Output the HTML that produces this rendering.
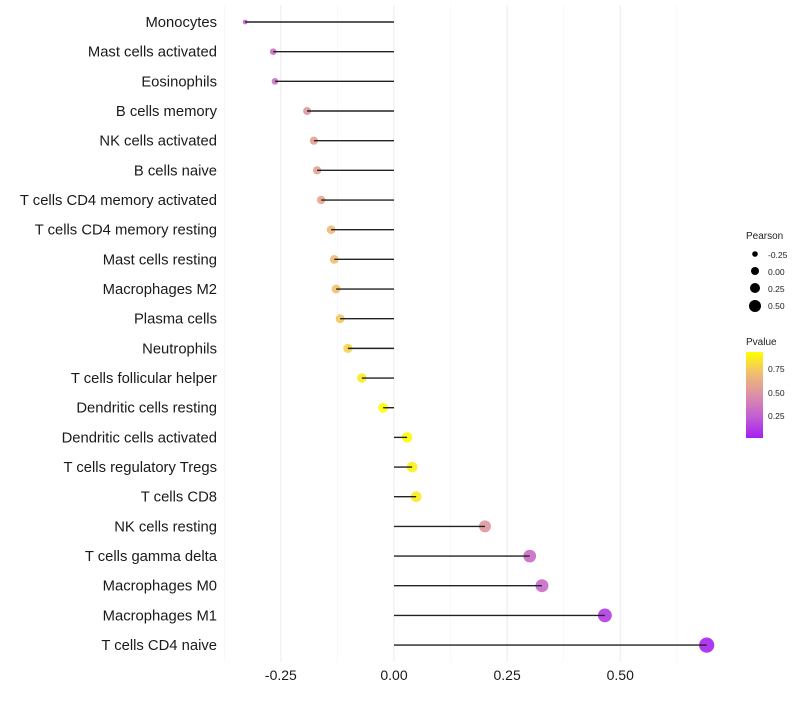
<!DOCTYPE html>
<html><head><meta charset="utf-8"><style>
body{margin:0;background:#fff}
svg{font-family:"Liberation Sans",sans-serif}
</style></head><body>
<svg id="chart" width="800" height="700">
<defs>
<linearGradient id="pg" x1="0" y1="1" x2="0" y2="0">
<stop offset="0" stop-color="#a41ff2"/>
<stop offset="0.25" stop-color="#c25fd2"/>
<stop offset="0.5" stop-color="#dc90a8"/>
<stop offset="0.75" stop-color="#f0bd72"/>
<stop offset="1" stop-color="#ffff00"/>
</linearGradient>
</defs>
<g id="grid"></g>
<g id="marks"></g>
<g id="ylabels"></g>
<g id="xlabels"></g>
<g>
<text x="746" y="239" font-size="10" fill="#222">Pearson</text>
<circle cx="755" cy="254" r="2.8" fill="#000"/><text x="768" y="258" font-size="8.5" fill="#222">-0.25</text>
<circle cx="755" cy="271" r="4" fill="#000"/><text x="768" y="275" font-size="8.5" fill="#222">0.00</text>
<circle cx="755" cy="288" r="5" fill="#000"/><text x="768" y="292" font-size="8.5" fill="#222">0.25</text>
<circle cx="755" cy="306" r="6" fill="#000"/><text x="768" y="309" font-size="8.5" fill="#222">0.50</text>
</g>
<g>
<text x="746" y="345" font-size="10" fill="#222">Pvalue</text>
<rect x="746" y="352" width="17" height="86" fill="url(#pg)"/>
<text x="768" y="372" font-size="8.5" fill="#222">0.75</text>
<text x="768" y="396" font-size="8.5" fill="#222">0.50</text>
<text x="768" y="419" font-size="8.5" fill="#222">0.25</text>
</g>
</svg>
<script>
const categories=["Monocytes","Mast cells activated","Eosinophils","B cells memory","NK cells activated","B cells naive","T cells CD4 memory activated","T cells CD4 memory resting","Mast cells resting","Macrophages M2","Plasma cells","Neutrophils","T cells follicular helper","Dendritic cells resting","Dendritic cells activated","T cells regulatory  Tregs","T cells CD8","NK cells resting","T cells gamma delta","Macrophages M0","Macrophages M1","T cells CD4 naive"];
const pearson=[-0.329,-0.267,-0.263,-0.192,-0.177,-0.170,-0.161,-0.139,-0.132,-0.128,-0.119,-0.102,-0.071,-0.024,0.029,0.040,0.049,0.201,0.300,0.327,0.466,0.691];
const pvalue=[0.28,0.33,0.34,0.50,0.55,0.56,0.58,0.68,0.70,0.71,0.74,0.78,0.86,0.93,0.92,0.88,0.86,0.50,0.30,0.30,0.12,0.03];
const xTicks=[-0.25,0,0.25,0.5];
const xTickLabels=["-0.25","0.00","0.25","0.50"];
const NS="http://www.w3.org/2000/svg";
const x=v=>394+v*452.5;
const y=i=>22+i*29.67;
const rSize=v=>1.8+5.8*Math.sqrt(Math.max(0,(v+0.34)/1.03));
const stops=[[0.016,[164,31,242]],[0.245,[194,95,210]],[0.47,[220,144,168]],[0.70,[240,189,114]],[0.93,[255,255,0]]];
function col(p){if(p<=stops[0][0])return `rgb(${stops[0][1]})`;for(let k=1;k<stops.length;k++){if(p<=stops[k][0]){const a=stops[k-1],b=stops[k],t=(p-a[0])/(b[0]-a[0]);return `rgb(${a[1].map((c,j)=>Math.round(c+(b[1][j]-c)*t)).join(',')})`;}}return 'rgb(255,255,0)';}
function mk(tag,attrs,parent){const e=document.createElementNS(NS,tag);for(const k in attrs)e.setAttribute(k,attrs[k]);parent.appendChild(e);return e;}
const grid=document.getElementById('grid');
for(let v=-0.375;v<=0.626;v+=0.125){const minor=Math.abs((v*8)%2)>0.5;const g=mk('line',{x1:x(v),x2:x(v),y1:5,y2:662,stroke:minor?'#f3f3f3':'#ebebeb','stroke-width':minor?0.6:1},grid);

}
const marks=document.getElementById('marks');
const yl=document.getElementById('ylabels');
categories.forEach((c,i)=>{
 const pt=mk('circle',{cx:x(pearson[i]),cy:y(i),r:rSize(pearson[i]),fill:col(pvalue[i]),'fill-opacity':0.9},marks);
 
 
 const s=mk('line',{x1:x(0),x2:x(pearson[i]),y1:y(i),y2:y(i),stroke:'#222','stroke-width':1.4},marks);
 
 
 const t=mk('text',{x:217,y:y(i)+5,'text-anchor':'end','font-size':14.8,fill:'#1a1a1a'},yl);
 t.textContent=c;
 
 
});
const xl=document.getElementById('xlabels');
xTicks.forEach((v,i)=>{const t=mk('text',{x:x(v),y:680,'text-anchor':'middle','font-size':14,fill:'#1a1a1a'},xl);
t.textContent=xTickLabels[i];

});
</script>
</body></html>
